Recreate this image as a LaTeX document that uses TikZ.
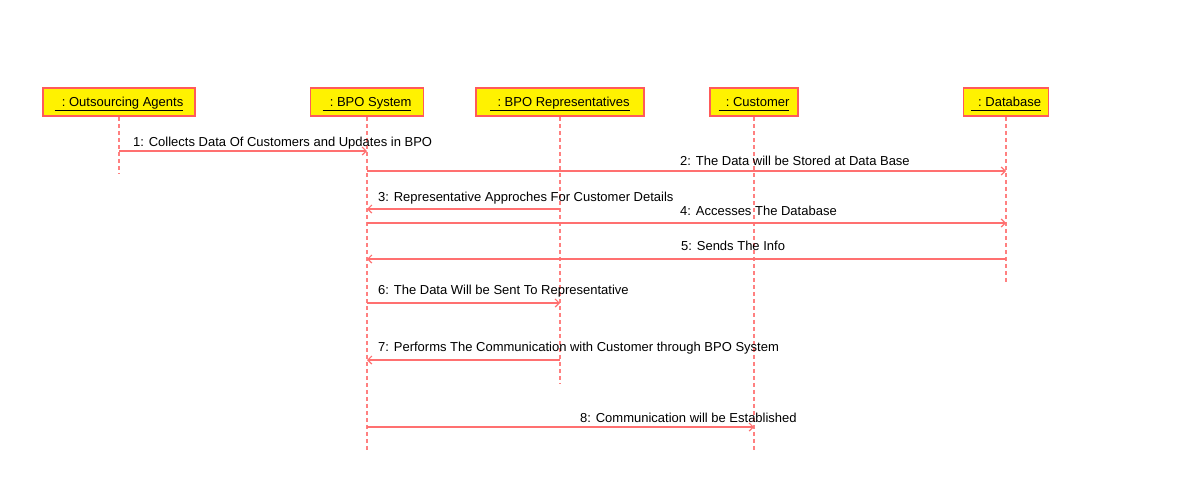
\documentclass[tikz,border=0pt]{standalone}
\usepackage{fontspec}
\setmainfont{Liberation Sans}
\usetikzlibrary{arrows.meta}
\definecolor{boxline}{RGB}{255,90,90}
\definecolor{lifeln}{RGB}{255,128,128}
\definecolor{msgln}{RGB}{255,112,112}
\newcommand{\objname}[1]{\raisebox{-4.5pt}[0pt][0pt]{\underline{\vphantom{g}\ \ :\ #1}}}
\begin{document}
\begin{tikzpicture}[x=1pt,y=-1pt,
  actor/.style={draw=boxline,line width=1.5pt,fill=yellow,minimum height=28pt,inner sep=0pt,font=\fontsize{13}{15}\selectfont},
  lifeline/.style={draw=lifeln,line width=1.5pt,dash pattern=on 4pt off 3pt},
  msg/.style={draw=msgln,line width=1.2pt,-{Straight Barb[length=4pt,width=8pt]}},
  lbl/.style={font=\fontsize{13}{15}\selectfont,inner sep=0pt,anchor=base west}
]
\useasboundingbox (0,0) rectangle (1197,491);

% object boxes
\node[actor,minimum width=152pt] (agents) at (119,102) {\objname{Outsourcing Agents}};
\node[actor,minimum width=113pt] (sys) at (367,102) {\objname{BPO System}};
\node[actor,minimum width=168pt] (reps) at (560,102) {\objname{BPO Representatives}};
\node[actor,minimum width=88pt] (cust) at (754,102) {\objname{Customer}};
\node[actor,minimum width=85pt] (db) at (1006,102) {\objname{Database}};

% lifeline ends
\coordinate (agentsEnd) at (119,173);
\coordinate (sysEnd) at (367,450);
\coordinate (repsEnd) at (560,383);
\coordinate (custEnd) at (754,450);
\coordinate (dbEnd) at (1006,282);

\draw[lifeline] (agents.south) -- (agentsEnd);
\draw[lifeline] (sys.south) -- (sysEnd);
\draw[lifeline] (reps.south) -- (repsEnd);
\draw[lifeline] (cust.south) -- (custEnd);
\draw[lifeline] (db.south) -- (dbEnd);

% messages
\draw[msg] (agents |- 0,151) -- (sys |- 0,151);
\node[lbl] (m1) at (133,146) {1: Collects Data Of Customers and Updates in BPO};

\draw[msg] (sys |- 0,171) -- (db |- 0,171);
\node[lbl] (m2) at (680,165) {2: The Data will be Stored at Data Base};

\draw[msg] (reps |- 0,209) -- (sys |- 0,209);
\node[lbl] (m3) at (378,201) {3: Representative Approches For Customer Details};

\draw[msg] (sys |- 0,223) -- (db |- 0,223);
\node[lbl] (m4) at (680,215) {4: Accesses The Database};

\draw[msg] (db |- 0,259) -- (sys |- 0,259);
\node[lbl] (m5) at (681,250) {5: Sends The Info};

\draw[msg] (sys |- 0,303) -- (reps |- 0,303);
\node[lbl] (m6) at (378,294) {6: The Data Will be Sent To Representative};

\draw[msg] (reps |- 0,360) -- (sys |- 0,360);
\node[lbl] (m7) at (378,351) {7: Performs The Communication with Customer through BPO System};

\draw[msg] (sys |- 0,427) -- (cust |- 0,427);
\node[lbl] (m8) at (580,422) {8: Communication will be Established};
\end{tikzpicture}
\end{document}
